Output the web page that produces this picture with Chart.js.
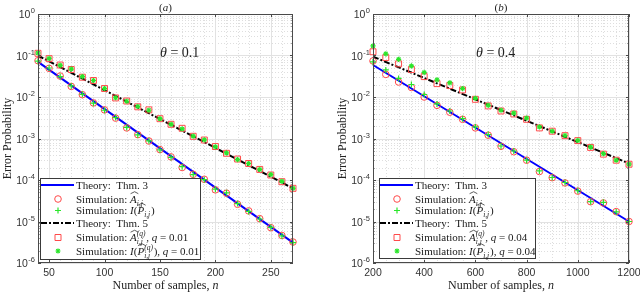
<!DOCTYPE html>
<html>
<head>
<meta charset="utf-8">
<script src="https://cdn.jsdelivr.net/npm/chart.js@4.4.0/dist/chart.umd.min.js"></script>
<style>
body { margin: 0; background: #fff; }
.panel { position: absolute; top: 0; width: 320px; height: 293px; }
</style>
</head>
<body>
<div class="panel" style="left:0"><canvas id="chartA" width="320" height="293"></canvas></div>
<div class="panel" style="left:320px"><canvas id="chartB" width="320" height="293"></canvas></div>
<script>
// ---- panel (a), theta = 0.1 ----
var samplesA = [40, 50, 60, 70, 80, 90, 100, 110, 120, 130, 140, 150, 160, 170, 180, 190, 200, 210, 220, 230, 240, 250, 260, 270];
var circlesA = [0.075, 0.049, 0.032, 0.018, 0.0114, 0.0072, 0.0049, 0.0031, 0.0018, 0.00124, 0.00087, 0.00054, 0.00036, 0.0002, 0.000137, 0.000104, 0.000058, 0.000048, 0.000026, 0.000018, 0.0000117, 0.0000071, 0.0000046, 0.0000032];
var plusA = [0.073, 0.05, 0.031, 0.0185, 0.0116, 0.0071, 0.0048, 0.0032, 0.00185, 0.00122, 0.00088, 0.00053, 0.00035, 0.00021, 0.000135, 0.000102, 0.00006, 0.000049, 0.000027, 0.0000175, 0.0000115, 0.0000072, 0.0000045, 0.0000031];
var squaresA = [0.113, 0.084, 0.059, 0.046, 0.03, 0.025, 0.016, 0.0095, 0.008, 0.0058, 0.0049, 0.003, 0.0022, 0.00176, 0.00113, 0.00092, 0.00064, 0.00044, 0.00032, 0.00025, 0.00018, 0.000132, 0.000091, 0.000063];
var starsA = [0.115, 0.085, 0.058, 0.047, 0.031, 0.025, 0.016, 0.0096, 0.0079, 0.0059, 0.0048, 0.003, 0.0022, 0.0017, 0.00114, 0.00093, 0.00063, 0.00045, 0.00031, 0.00025, 0.00018, 0.000135, 0.000093, 0.000063];
var theoryNA = [40, 270];
var thm3A = [0.07, 0.0000031];
var thm5A = [0.1, 0.000063];
var xTicksA = [50, 100, 150, 200, 250];
var xMinorA = [60, 70, 80, 90, 110, 120, 130, 140, 160, 170, 180, 190, 210, 220, 230, 240, 260];

// ---- panel (b), theta = 0.4 ----
var samplesB = [200, 250, 300, 350, 400, 450, 500, 550, 600, 650, 700, 750, 800, 850, 900, 950, 1000, 1050, 1100, 1150, 1200];
var circlesB = [0.074, 0.035, 0.023, 0.017, 0.01, 0.0063, 0.0043, 0.0029, 0.0018, 0.0012, 0.00065, 0.00048, 0.0003, 0.00016, 0.000114, 0.000085, 0.000054, 0.00003, 0.000028, 0.0000173, 0.00001];
var plusB = [0.07, 0.045, 0.028, 0.02, 0.0115, 0.0068, 0.0046, 0.003, 0.0019, 0.00125, 0.00066, 0.0005, 0.0003, 0.000165, 0.000115, 0.000087, 0.000055, 0.00003, 0.000029, 0.000017, 0.00001];
var squaresB = [0.123, 0.089, 0.063, 0.046, 0.031, 0.021, 0.019, 0.0148, 0.0088, 0.0061, 0.0046, 0.0039, 0.0029, 0.0018, 0.0015, 0.00117, 0.00089, 0.00061, 0.00042, 0.0003, 0.00024];
var starsB = [0.17, 0.11, 0.081, 0.056, 0.039, 0.026, 0.022, 0.016, 0.0093, 0.0063, 0.0048, 0.0041, 0.0031, 0.0019, 0.0015, 0.00118, 0.0009, 0.00062, 0.00043, 0.0003, 0.00024];
var theoryNB = [200, 1200];
var thm3B = [0.059, 0.00001];
var thm5B = [0.094, 0.00025];
var xTicksB = [200, 400, 600, 800, 1000, 1200];
var xMinorB = [250, 300, 350, 450, 500, 550, 650, 700, 750, 850, 900, 950, 1050, 1100, 1150];

var yExponents = [0, -1, -2, -3, -4, -5, -6];

var serif = '"Liberation Serif", "DejaVu Serif", serif';
var sans = '"Liberation Sans", Arial, sans-serif';
var red = '#ff4a4a';
var green = '#2be62b';

function pts(xs, ys) {
    return xs.map(function (x, i) { return {x: x, y: ys[i]}; });
}

// draws a list of [text, kind] pieces, returns end x
function drawMath(ctx, parts, x, y, size) {
    var small = Math.round(size * 0.7 * 2) / 2;
    parts.forEach(function (p) {
        var txt = p[0], kind = p[1];
        if (kind === 'sub' || kind === 'sup') {
            ctx.font = 'italic ' + small + 'px ' + serif;
            ctx.fillText(txt, x, y + (kind === 'sub' ? 3 : -4.5));
            x += ctx.measureText(txt).width + 0.8;
        } else if (kind === 'ss') {
            ctx.font = 'italic ' + small + 'px ' + serif;
            ctx.fillText(txt[0], x, y - 5);
            ctx.fillText(txt[1], x, y + 3);
            x += Math.max(ctx.measureText(txt[0]).width, ctx.measureText(txt[1]).width) + 0.8;
        } else if (kind === 'h') {
            ctx.font = 'italic ' + size + 'px ' + serif;
            var w = ctx.measureText(txt).width;
            ctx.fillText(txt, x, y);
            ctx.save();
            ctx.lineWidth = 0.7;
            ctx.beginPath();
            ctx.moveTo(x + 0.5, y - size * 0.8);
            ctx.lineTo(x + w / 2 + 1.2, y - size * 0.98);
            ctx.lineTo(x + w + 1.5, y - size * 0.8);
            ctx.stroke();
            ctx.restore();
            x += w;
        } else {
            ctx.font = (kind === 'i' ? 'italic ' : '') + size + 'px ' + serif;
            ctx.fillText(txt, x, y);
            x += ctx.measureText(txt).width;
        }
    });
    return x;
}

function mathWidth(ctx, parts, size) {
    ctx.save();
    ctx.globalAlpha = 0;
    var w = drawMath(ctx, parts, 0, -100, size);
    ctx.restore();
    return w;
}

function drawMarker(ctx, style, x, y) {
    ctx.save();
    ctx.beginPath();
    if (style === 'circle') {
        ctx.strokeStyle = red; ctx.lineWidth = 1;
        ctx.arc(x, y, 3.3, 0, Math.PI * 2);
    } else if (style === 'rect') {
        ctx.strokeStyle = red; ctx.lineWidth = 1;
        ctx.rect(x - 3, y - 3, 6, 6);
    } else if (style === 'cross') {
        ctx.strokeStyle = green; ctx.lineWidth = 1.2;
        ctx.moveTo(x - 3, y); ctx.lineTo(x + 3, y);
        ctx.moveTo(x, y - 3); ctx.lineTo(x, y + 3);
    } else {
        ctx.strokeStyle = green; ctx.lineWidth = 1.2;
        ctx.moveTo(x - 2.5, y); ctx.lineTo(x + 2.5, y);
        ctx.moveTo(x, y - 2.5); ctx.lineTo(x, y + 2.5);
        ctx.moveTo(x - 1.8, y - 1.8); ctx.lineTo(x + 1.8, y + 1.8);
        ctx.moveTo(x - 1.8, y + 1.8); ctx.lineTo(x + 1.8, y - 1.8);
    }
    ctx.stroke();
    ctx.restore();
}

function makePanel(canvasId, cfg) {
    var framePlugin = {
        id: 'frame' + canvasId,
        beforeDatasetsDraw: function (chart) {
            var ctx = chart.ctx, a = chart.chartArea;
            var xs = chart.scales.x, ys = chart.scales.y;
            ctx.save();
            ctx.lineWidth = 1;
            // minor grid, dotted
            ctx.strokeStyle = '#dedede';
            ctx.setLineDash([1, 2]);
            ctx.beginPath();
            for (var e = -6; e < 0; e++) {
                for (var m = 2; m <= 9; m++) {
                    var py = Math.round(ys.getPixelForValue(m * Math.pow(10, e))) + 0.5;
                    ctx.moveTo(a.left, py); ctx.lineTo(a.right, py);
                }
            }
            cfg.xMinor.forEach(function (v) {
                var px = Math.round(xs.getPixelForValue(v)) + 0.5;
                ctx.moveTo(px, a.top); ctx.lineTo(px, a.bottom);
            });
            ctx.stroke();
            // major grid
            ctx.setLineDash([]);
            ctx.strokeStyle = '#e2e2e2';
            ctx.beginPath();
            yExponents.forEach(function (e) {
                var py = Math.round(ys.getPixelForValue(Math.pow(10, e))) + 0.5;
                ctx.moveTo(a.left, py); ctx.lineTo(a.right, py);
            });
            cfg.xTicks.forEach(function (v) {
                var px = Math.round(xs.getPixelForValue(v)) + 0.5;
                ctx.moveTo(px, a.top); ctx.lineTo(px, a.bottom);
            });
            ctx.stroke();
            ctx.restore();
        },
        afterDraw: function (chart) {
            var ctx = chart.ctx, a = chart.chartArea;
            var xs = chart.scales.x, ys = chart.scales.y;
            ctx.save();
            // box and ticks
            ctx.strokeStyle = '#4a4a4a';
            ctx.lineWidth = 1;
            ctx.strokeRect(a.left + 0.5, a.top + 0.5, a.right - a.left - 1, a.bottom - a.top - 1);
            ctx.beginPath();
            for (var e = -6; e <= 0; e++) {
                for (var m = 1; m <= 9; m++) {
                    if (e === 0 && m > 1) break;
                    var py = Math.round(ys.getPixelForValue(m * Math.pow(10, e))) + 0.5;
                    var len = m === 1 ? 3 : 1.5;
                    ctx.moveTo(a.left, py); ctx.lineTo(a.left + len, py);
                    ctx.moveTo(a.right, py); ctx.lineTo(a.right - len, py);
                }
            }
            cfg.xTicks.forEach(function (v) {
                var px = Math.round(xs.getPixelForValue(v)) + 0.5;
                ctx.moveTo(px, a.bottom); ctx.lineTo(px, a.bottom - 3);
                ctx.moveTo(px, a.top); ctx.lineTo(px, a.top + 3);
            });
            ctx.stroke();

            // tick labels
            ctx.fillStyle = '#333';
            ctx.textBaseline = 'alphabetic';
            ctx.font = '10.5px ' + sans;
            ctx.textAlign = 'center';
            cfg.xTicks.forEach(function (v) {
                ctx.fillText(String(v), xs.getPixelForValue(v), a.bottom + 13);
            });
            yExponents.forEach(function (e) {
                var py = ys.getPixelForValue(Math.pow(10, e));
                var ex = String(e);
                ctx.font = '7.5px ' + sans;
                var ew = ctx.measureText(ex).width;
                ctx.textAlign = 'left';
                var right = a.left - 3;
                ctx.fillText(ex, right - ew, py - 1);
                ctx.font = '10.5px ' + sans;
                var bw = ctx.measureText('10').width;
                ctx.fillText('10', right - ew - bw - 0.5, py + 4);
            });

            // titles
            ctx.fillStyle = '#222';
            ctx.strokeStyle = '#222';
            ctx.textAlign = 'left';
            var mid = (a.left + a.right) / 2;
            var t = [['(', 'r'], [cfg.letter, 'i'], [')', 'r']];
            drawMath(ctx, t, mid - mathWidth(ctx, t, 11) / 2, 11, 11);
            var xt = [['Number of samples, ', 'r'], ['n', 'i']];
            drawMath(ctx, xt, mid - mathWidth(ctx, xt, 12) / 2, 289, 12);
            ctx.save();
            ctx.translate(cfg.yTitleX, (a.top + a.bottom) / 2);
            ctx.rotate(-Math.PI / 2);
            ctx.font = '12px ' + serif;
            ctx.textAlign = 'center';
            ctx.fillText('Error Probability', 0, 4);
            ctx.restore();
            ctx.textAlign = 'left';
            drawMath(ctx, [['\u03b8', 'i'], [' = ' + cfg.theta, 'r']], cfg.thetaX, 57, 14);

            // legend
            var L = cfg.legend;
            ctx.fillStyle = '#fff';
            ctx.fillRect(L.left, L.top, L.width, L.height);
            ctx.strokeStyle = '#3a3a3a';
            ctx.lineWidth = 1;
            ctx.strokeRect(L.left + 0.5, L.top + 0.5, L.width - 1, L.height - 1);
            var rowY = [7, 21, 32.5, 45, 59.5, 73];
            var q = cfg.q;
            var rows = [
                {kind: 'line', color: '#0000ff', dash: [], text: [['Theory:  Thm. 3', 'r']]},
                {kind: 'circle', text: [['Simulation: ', 'r'], ['A', 'h'], ['i,j', 'sub']]},
                {kind: 'cross', text: [['Simulation: ', 'r'], ['I', 'i'], ['(', 'r'], ['P', 'h'], ['i,j', 'sub'], [')', 'r']]},
                {kind: 'line', color: '#000', dash: [6, 2, 2, 2], text: [['Theory:  Thm. 5', 'r']]},
                {kind: 'rect', text: [['Simulation: ', 'r'], ['A', 'h'], [['(q)', 'i,j'], 'ss'], [', ', 'r'], ['q', 'i'], [' = ' + q, 'r']]},
                {kind: 'star', text: [['Simulation: ', 'r'], ['I', 'i'], ['(', 'r'], ['P', 'h'], [cfg.starSup ? ['(q)', 'i,j'] : 'i,j', cfg.starSup ? 'ss' : 'sub'], ['), ', 'r'], ['q', 'i'], [' = ' + q, 'r']]}
            ];
            rows.forEach(function (r, i) {
                var y = L.top + rowY[i];
                if (r.kind === 'line') {
                    ctx.save();
                    ctx.strokeStyle = r.color;
                    ctx.lineWidth = 2;
                    ctx.setLineDash(r.dash);
                    ctx.beginPath();
                    ctx.moveTo(L.left + 1, y); ctx.lineTo(L.left + 34, y);
                    ctx.stroke();
                    ctx.restore();
                } else {
                    drawMarker(ctx, r.kind, L.left + 18, y);
                }
                ctx.fillStyle = '#1a1a1a';
                ctx.strokeStyle = '#1a1a1a';
                drawMath(ctx, r.text, L.left + 36, y + 3.5, 11);
            });
            ctx.restore();
        }
    };

    return new Chart(document.getElementById(canvasId), {
        type: 'line',
        data: {
            datasets: [
                {data: pts(cfg.theoryN, cfg.thm3), borderColor: '#0000ff', borderWidth: 2, pointRadius: 0, order: 6},
                {data: pts(cfg.n, cfg.circles), showLine: false, pointStyle: 'circle', pointRadius: 3.3,
                    pointBorderColor: red, pointBackgroundColor: 'rgba(0,0,0,0)', pointBorderWidth: 1, order: 5},
                {data: pts(cfg.n, cfg.plus), showLine: false, pointStyle: 'cross', pointRadius: 3,
                    pointBorderColor: green, pointBorderWidth: 1.2, order: 4},
                {data: pts(cfg.theoryN, cfg.thm5), borderColor: '#000', borderWidth: 2, borderDash: [6, 2, 2, 2], pointRadius: 0, order: 3},
                {data: pts(cfg.n, cfg.squares), showLine: false, pointStyle: 'rect', pointRadius: 4.2,
                    pointBorderColor: red, pointBackgroundColor: 'rgba(0,0,0,0)', pointBorderWidth: 1, order: 2},
                {data: pts(cfg.n, cfg.stars), showLine: false, pointStyle: 'star', pointRadius: 2.6,
                    pointBorderColor: green, pointBorderWidth: 1.2, order: 1}
            ]
        },
        options: {
            responsive: false,
            animation: false,
            devicePixelRatio: 1,
            clip: false,
            layout: {padding: cfg.padding},
            plugins: {legend: {display: false}, tooltip: {enabled: false}},
            scales: {
                x: {type: 'linear', min: cfg.xMin, max: cfg.xMax, display: false},
                y: {type: 'logarithmic', min: 1e-6, max: 1, display: false}
            }
        },
        plugins: [framePlugin]
    });
}

makePanel('chartA', {
    letter: 'a', theta: '0.1', q: '0.01', starSup: true,
    n: samplesA, circles: circlesA, plus: plusA, squares: squaresA, stars: starsA,
    theoryN: theoryNA, thm3: thm3A, thm5: thm5A,
    xMin: 40, xMax: 270, xTicks: xTicksA, xMinor: xMinorA,
    padding: {left: 38, top: 14, right: 27, bottom: 30},
    yTitleX: 7, thetaX: 160,
    legend: {left: 40, top: 178, width: 161, height: 82}
});

makePanel('chartB', {
    letter: 'b', theta: '0.4', q: '0.04', starSup: false,
    n: samplesB, circles: circlesB, plus: plusB, squares: squaresB, stars: starsB,
    theoryN: theoryNB, thm3: thm3B, thm5: thm5B,
    xMin: 200, xMax: 1200, xTicks: xTicksB, xMinor: xMinorB,
    padding: {left: 53, top: 14, right: 11, bottom: 30},
    yTitleX: 22, thetaX: 156,
    legend: {left: 59, top: 178, width: 157, height: 81}
});
</script>
</body>
</html>
